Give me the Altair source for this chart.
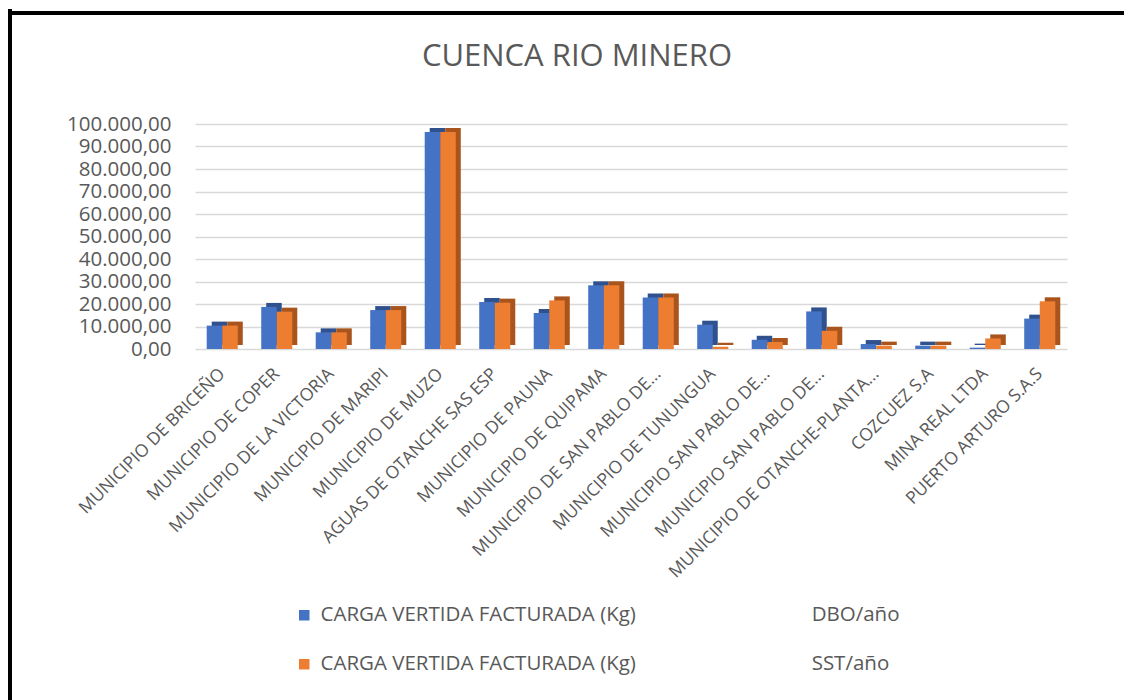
import altair as alt
import pandas as pd

categories = [
    "MUNICIPIO DE BRICEÑO",
    "MUNICIPIO DE COPER",
    "MUNICIPIO DE LA VICTORIA",
    "MUNICIPIO DE MARIPI",
    "MUNICIPIO DE MUZO",
    "AGUAS DE OTANCHE SAS ESP",
    "MUNICIPIO DE PAUNA",
    "MUNICIPIO DE QUIPAMA",
    "MUNICIPIO DE SAN PABLO DE...",
    "MUNICIPIO DE TUNUNGUA",
    "MUNICIPIO SAN PABLO DE...",
    "MUNICIPIO SAN PABLO DE...\u200b",
    "MUNICIPIO DE OTANCHE-PLANTA...",
    "COZCUEZ S.A",
    "MINA REAL LTDA",
    "PUERTO ARTURO S.A.S",
]
dbo_values = [10400, 18700, 7400, 17300, 96400, 20900, 16000, 28300,
              22900, 10800, 4100, 16700, 2200, 1500, 600, 13500]
sst_values = [10400, 16600, 7400, 17300, 96400, 20600, 21600, 28300,
              22900, 1000, 3100, 8100, 1500, 1500, 4700, 21200]
series = [
    "CARGA VERTIDA FACTURADA (Kg)" + "\u00a0" * 33 + "DBO/año",
    "CARGA VERTIDA FACTURADA (Kg)" + "\u00a0" * 33 + "SST/año",
]
colors = ["#4472C4", "#ED7D31"]
dark_colors = ["#2F528F", "#A9541C"]
y_ticks = [0, 10000, 20000, 30000, 40000, 50000, 60000, 70000, 80000, 90000, 100000]
title_text = "CUENCA RIO MINERO"

rows = []
for c, d, s in zip(categories, dbo_values, sst_values):
    rows.append({"cat": c, "serie": series[0], "valor": d})
    rows.append({"cat": c, "serie": series[1], "valor": s})
df = pd.DataFrame(rows)

font = "Open Sans"
grey = "#595959"

label_expr = ("replace(replace(replace(format(datum.value, ',.2f'), /,/g, '_'), "
              "/[.]/g, ','), /_/g, '.')")

x_enc = alt.X(
    "cat:N",
    sort=categories,
    scale=alt.Scale(paddingInner=0.43, paddingOuter=0.215),
    axis=alt.Axis(
        title=None, labelAngle=-45, labelFontSize=17.5, labelColor=grey,
        labelFont=font, ticks=False, domain=False, labelPadding=22,
        labelLimit=400, labelAlign="right", labelBaseline="middle",
        grid=False,
    ),
)
y_enc = alt.Y(
    "valor:Q",
    scale=alt.Scale(domain=[0, 100000], nice=False),
    axis=alt.Axis(
        title=None, values=y_ticks, labelExpr=label_expr, labelFontSize=20.5,
        labelColor=grey, labelFont=font, ticks=False, domain=False,
        labelPadding=24, gridColor="#D9D9D9", gridWidth=1.5,
    ),
)

# band width of the x scale: 872 / 16 * (1 - 0.43)
band = 872 / 16 * (1 - 0.43)

shadow = alt.Chart(df).transform_calculate(lado="datum.serie").mark_bar(yOffset=-4).encode(
    x=x_enc,
    xOffset=alt.XOffset("lado:N", sort=series,
                        scale=alt.Scale(range=[5, 5 + band])),
    y=y_enc,
    fill=alt.Fill("lado:N", sort=series,
                  scale=alt.Scale(domain=series, range=dark_colors), legend=None),
)

bars = alt.Chart(df).mark_bar().encode(
    x=x_enc,
    xOffset=alt.XOffset("serie:N", sort=series,
                        scale=alt.Scale(range=[0, band])),
    y=y_enc,
    fill=alt.Fill(
        "serie:N",
        sort=series,
        scale=alt.Scale(domain=series, range=colors),
        legend=alt.Legend(
            title=None, orient="none", legendX=99, legendY=481,
            direction="vertical", symbolType="square", symbolSize=110,
            symbolStrokeWidth=0, labelFontSize=20.5, labelFont=font,
            labelColor=grey, labelLimit=900, rowPadding=28, padding=0,
            labelOffset=6,
        ),
    ),
)

single = alt.Data(values=[{"t": title_text}])
title_mark = alt.Chart(single).mark_text(
    font=font, fontSize=31, color=grey, align="center", baseline="middle"
).encode(text="t:N", x=alt.value(382), y=alt.value(-67))

left_line = alt.Chart(single).mark_rule(color="black", strokeWidth=4).encode(
    x=alt.value(-185), y=alt.value(-115), y2=alt.value(600)
)
top_line = alt.Chart(single).mark_rule(color="black", strokeWidth=4).encode(
    x=alt.value(-187), x2=alt.value(940), y=alt.value(-111)
)

chart = alt.layer(shadow, bars, title_mark, left_line, top_line).resolve_scale(
    fill="independent", xOffset="independent"
).properties(
    width=872,
    height=225,
    autosize=alt.AutoSizeParams(type="none"),
    padding={"left": 187, "top": 116, "right": 57, "bottom": 351},
).configure_view(stroke=None)

chart.save("out.html", embed_options={"renderer": "svg", "actions": False})
